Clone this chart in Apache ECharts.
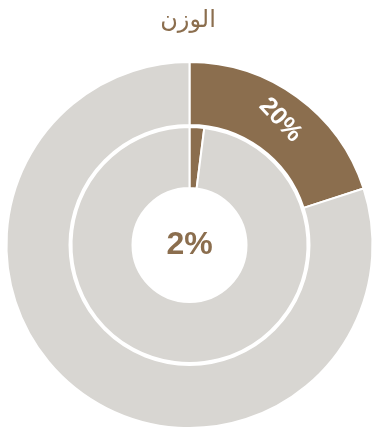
<!DOCTYPE html>
<html><head><meta charset="utf-8">
<script src="https://cdn.jsdelivr.net/npm/echarts@6/dist/echarts.min.js"></script>
<style>html,body{margin:0;padding:0;background:#fff}#c{width:376px;height:432px}</style>
</head><body><div id="c"></div>
<script>
const title = 'الوزن';
const categories = ['الحصة', 'الباقي'];
const outerValues = [20, 80];
const innerValues = [2, 98];
const BROWN = '#8B6E4E', GRAY = '#D8D6D2';
const chart = echarts.init(document.getElementById('c'), null, {renderer: 'canvas'});
chart.setOption({
  animation: false,
  title: {text: title, left: 'center', top: 4,
    textStyle: {color: BROWN, fontSize: 24, fontWeight: 'normal', fontFamily: 'DejaVu Sans'}},
  series: [
    {type: 'pie', center: [189.5, 245], radius: [120, 183], startAngle: 90, clockwise: true,
     silent: true,
     itemStyle: {borderColor: '#fff', borderWidth: 2},
     label: {show: true, position: 'inside', rotate: -47, color: '#fff', fontSize: 25, fontWeight: 'bold',
       fontFamily: 'Liberation Sans', formatter: p => p.dataIndex === 0 ? p.value + '%' : ''},
     labelLine: {show: false},
     data: outerValues.map((v, i) => ({name: categories[i], value: v, itemStyle: {color: i === 0 ? BROWN : GRAY}}))},
    {type: 'pie', center: [189.5, 245], radius: [57, 118], startAngle: 90, clockwise: true,
     silent: true,
     itemStyle: {borderColor: '#fff', borderWidth: 2},
     label: {show: true, position: 'center', color: BROWN, fontSize: 32, fontWeight: 'bold',
       fontFamily: 'Liberation Sans', formatter: () => innerValues[0] + '%'},
     labelLine: {show: false},
     data: innerValues.map((v, i) => ({name: categories[i], value: v, itemStyle: {color: i === 0 ? BROWN : GRAY},
       label: {show: i === 0}}))}
  ]
});
</script></body></html>
